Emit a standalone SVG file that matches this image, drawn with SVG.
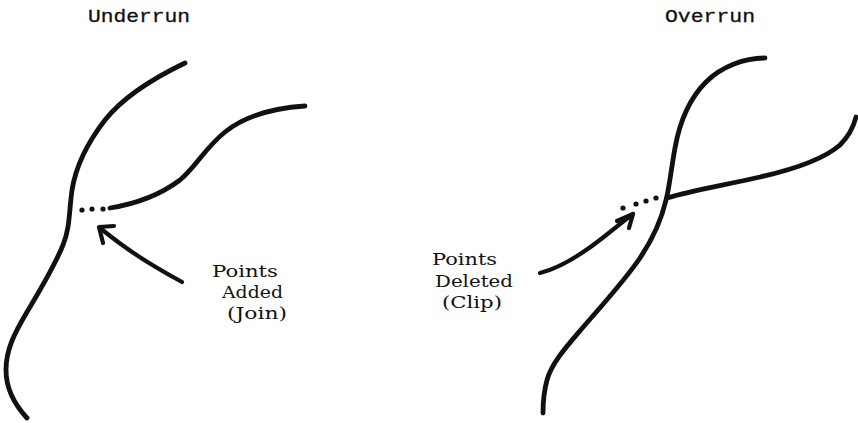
<svg xmlns="http://www.w3.org/2000/svg" width="858" height="423" viewBox="0 0 858 423">
  <style>
    .line { fill: none; stroke: #111; stroke-width: 4.8; stroke-linecap: round; stroke-linejoin: round; }
    .arrow { fill: none; stroke: #111; stroke-width: 4.2; stroke-linecap: round; stroke-linejoin: round; }
    .dot { fill: #111; }
    .title { font-family: "Liberation Mono", "DejaVu Sans Mono", monospace; font-size: 19px; fill: #111; stroke: #111; stroke-width: 0.3; }
    .label { font-family: "DejaVu Serif", "Liberation Serif", serif; font-size: 17.5px; fill: #111; }
  </style>
  <rect width="858" height="423" fill="#fff"/>

  <!-- Left panel: a line that stops short of the one it should meet -->
  <g id="underrun-title">
    <text class="title" x="88" y="22" textLength="102" lengthAdjust="spacingAndGlyphs">Underrun</text>
  </g>
  <g id="underrun-main-line">
    <path class="line" d="M185,63 C160,75 125,95 105,120 C88,142 76,165 72,190 C69,212 70,228 63,245 C55,265 42,287 27,312 C14,334 6,350 6,370 C6,390 15,405 27,418"/>
  </g>
  <g id="underrun-branch-line">
    <path class="line" d="M110,208 C135,204 160,195 180,180 C195,168 205,148 225,132 C245,116 275,108 305,106"/>
  </g>
  <g id="underrun-added-points">
    <circle class="dot" cx="82" cy="210" r="2.6"/>
    <circle class="dot" cx="92" cy="209" r="2.6"/>
    <circle class="dot" cx="103" cy="209" r="2.6"/>
  </g>
  <g id="underrun-label">
    <text class="label" x="212" y="277" textLength="66" lengthAdjust="spacingAndGlyphs">Points</text>
    <text class="label" x="222" y="298" textLength="61" lengthAdjust="spacingAndGlyphs">Added</text>
    <text class="label" x="227" y="319" textLength="60" lengthAdjust="spacingAndGlyphs">(Join)</text>
  </g>

  <!-- Right panel: a line that runs past the one it crosses -->
  <g id="overrun-title">
    <text class="title" x="665" y="22" textLength="90" lengthAdjust="spacingAndGlyphs">Overrun</text>
  </g>
  <g id="overrun-main-line">
    <path class="line" d="M765,58 C745,58 722,66 706,82 C690,98 680,120 675,148 C671,170 669,190 666,200 C661,222 652,240 640,258 C625,280 605,302 585,325 C568,345 552,362 547,380 C543,395 543,405 543,413"/>
  </g>
  <g id="overrun-branch-line">
    <path class="line" d="M667,198 C690,191 720,186 760,177 C800,168 825,158 840,145 C850,135 854,125 856,117"/>
  </g>
  <g id="overrun-deleted-points">
    <circle class="dot" cx="623" cy="208" r="2.6"/>
    <circle class="dot" cx="636" cy="204" r="2.6"/>
    <circle class="dot" cx="646" cy="201" r="2.6"/>
    <circle class="dot" cx="656" cy="198" r="2.6"/>
  </g>
  <g id="overrun-label">
    <text class="label" x="432" y="265" textLength="65" lengthAdjust="spacingAndGlyphs">Points</text>
    <text class="label" x="435" y="287" textLength="78" lengthAdjust="spacingAndGlyphs">Deleted</text>
    <text class="label" x="442" y="308" textLength="60" lengthAdjust="spacingAndGlyphs">(Clip)</text>
  </g>

  <!-- Pointer arrows from the labels to the dotted points -->
  <g id="connectors">
    <path class="arrow" d="M182,282 C160,270 140,258 125,247 C115,240 105,232 100,228"/>
    <path class="arrow" d="M114,226 L99,227 L103,243"/>
    <path class="arrow" d="M540,273 C560,268 585,252 605,236 C615,228 625,220 633,214"/>
    <path class="arrow" d="M617,221 L633,214 L629,228"/>
  </g>
</svg>
